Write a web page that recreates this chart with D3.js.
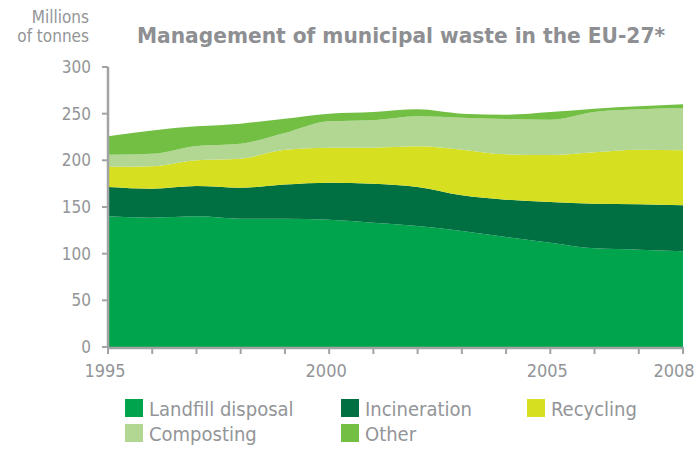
<!DOCTYPE html>
<html>
<head>
<meta charset="utf-8">
<script src="https://cdn.jsdelivr.net/npm/d3@7"></script>
<style>
  body { margin: 0; background: #fff; }
  text { font-family: "DejaVu Sans Condensed", "DejaVu Sans", sans-serif; fill: #939598; }
  .title { font-weight: bold; fill: #8e8f92; }
</style>
</head>
<body>
<div id="chart"></div>
<script>
// data, millions of tonnes
const years = [1995, 1996, 1997, 1998, 1999, 2000, 2001, 2002, 2003, 2004, 2005, 2006, 2007, 2008];
const landfill =     [140, 138.6, 140, 137.5, 137.5, 136.4, 133.2, 129.6, 124.3, 117.9, 111.8, 105.7, 104.3, 102.5];
const incineration = [31.4, 31, 32.5, 33.2, 36.5, 39.6, 41.8, 41.8, 38.2, 40, 43.6, 47.9, 48.6, 49.3];
const recycling =    [21.6, 24, 27.5, 31.1, 37.4, 37.6, 38.6, 43.6, 48.9, 48.5, 50.3, 55, 58.5, 58.9];
const composting =   [13, 13.4, 15.4, 16.1, 17.9, 28.2, 29.3, 32.1, 34.3, 37.9, 37.9, 43.2, 43.2, 45.3];
const other =        [19.7, 25, 21, 21.4, 15.3, 8.2, 8.9, 7.5, 4.3, 4.6, 8.2, 3.6, 3.3, 4];
const seriesNames = ['Landfill disposal', 'Incineration', 'Recycling', 'Composting', 'Other'];
const colors = ['#00a44c', '#006f42', '#d7df21', '#b1d793', '#72bf44'];
const yTicks = [0, 50, 100, 150, 200, 250, 300];
const xLabels = [1995, 2000, 2005, 2008];

const width = 700, height = 450;
const margins = { top: 67, right: 17, bottom: 103, left: 108 };

const rows = years.map((yr, i) => ({
  year: yr,
  s0: landfill[i], s1: incineration[i], s2: recycling[i], s3: composting[i], s4: other[i]
}));

const svg = d3.select('#chart')
  .append('svg')
    .attr('width', width)
    .attr('height', height);

const x = d3.scaleLinear()
  .domain([1995, 2008])
  .range([margins.left, width - margins.right]);

const y = d3.scaleLinear()
  .domain([0, 300])
  .range([height - margins.bottom, margins.top]);

const stack = d3.stack().keys(['s0', 's1', 's2', 's3', 's4']);
const layers = stack(rows);

const area = d3.area()
  .x(d => x(d.data.year))
  .y0(d => y(d[0]))
  .y1(d => y(d[1]))
  .curve(d3.curveMonotoneX);

svg.append('g')
  .selectAll('path')
  .data(layers)
  .join('path')
    .attr('d', area)
    .attr('fill', (d, i) => colors[i]);

// Axes
const axisColor = '#a2a3a5';
const yAxis = svg.append('g');
yAxis.append('line')
  .attr('x1', x(1995)).attr('x2', x(1995))
  .attr('y1', y(300)).attr('y2', y(0) + 1)
  .attr('stroke', axisColor).attr('stroke-width', 2.5);
yAxis.selectAll('.tick')
  .data(yTicks)
  .join('line')
    .attr('x1', x(1995) - 6).attr('x2', x(1995))
    .attr('y1', d => y(d)).attr('y2', d => y(d))
    .attr('stroke', axisColor).attr('stroke-width', 2);
yAxis.selectAll('text')
  .data(yTicks)
  .join('text')
    .attr('x', x(1995) - 17)
    .attr('y', d => y(d) + 6)
    .attr('text-anchor', 'end')
    .style('font-size', '17px')
    .text(d => d);

const xAxis = svg.append('g');
xAxis.append('line')
  .attr('x1', x(1995) - 1).attr('x2', x(2008) + 1)
  .attr('y1', y(0) + 1).attr('y2', y(0) + 1)
  .attr('stroke', axisColor).attr('stroke-width', 2.5);
xAxis.selectAll('line.tick')
  .data(years)
  .join('line')
    .attr('class', 'tick')
    .attr('x1', d => x(d)).attr('x2', d => x(d))
    .attr('y1', y(0) + 1).attr('y2', y(0) + 7)
    .attr('stroke', axisColor).attr('stroke-width', 2);
xAxis.selectAll('text')
  .data(xLabels)
  .join('text')
    .attr('x', d => d === 2008 ? x(d) - 9 : x(d) - 3)
    .attr('y', y(0) + 30)
    .attr('text-anchor', 'middle')
    .style('font-size', '18px')
    .text(d => d);

// Titles
svg.append('text')
  .attr('x', 89).attr('y', 23)
  .attr('text-anchor', 'end')
  .style('font-size', '17px')
  .text('Millions');
svg.append('text')
  .attr('x', 89).attr('y', 42)
  .attr('text-anchor', 'end')
  .style('font-size', '17px')
  .text('of tonnes');
svg.append('text')
  .attr('class', 'title')
  .attr('x', 137).attr('y', 43)
  .attr('textLength', 528)
  .attr('lengthAdjust', 'spacingAndGlyphs')
  .style('font-size', '21px')
  .text('Management of municipal waste in the EU-27*');

// Legend
const legendPos = [[125, 399], [341, 399], [527, 399], [125, 424], [341, 424]];
const legend = svg.append('g');
seriesNames.forEach((name, i) => {
  const [lx, ly] = legendPos[i];
  legend.append('rect')
    .attr('x', lx).attr('y', ly)
    .attr('width', 18).attr('height', 18)
    .attr('fill', colors[i]);
  legend.append('text')
    .attr('x', lx + 24).attr('y', ly + 17)
    .style('font-size', '20px')
    .text(name);
});
</script>
</body>
</html>
